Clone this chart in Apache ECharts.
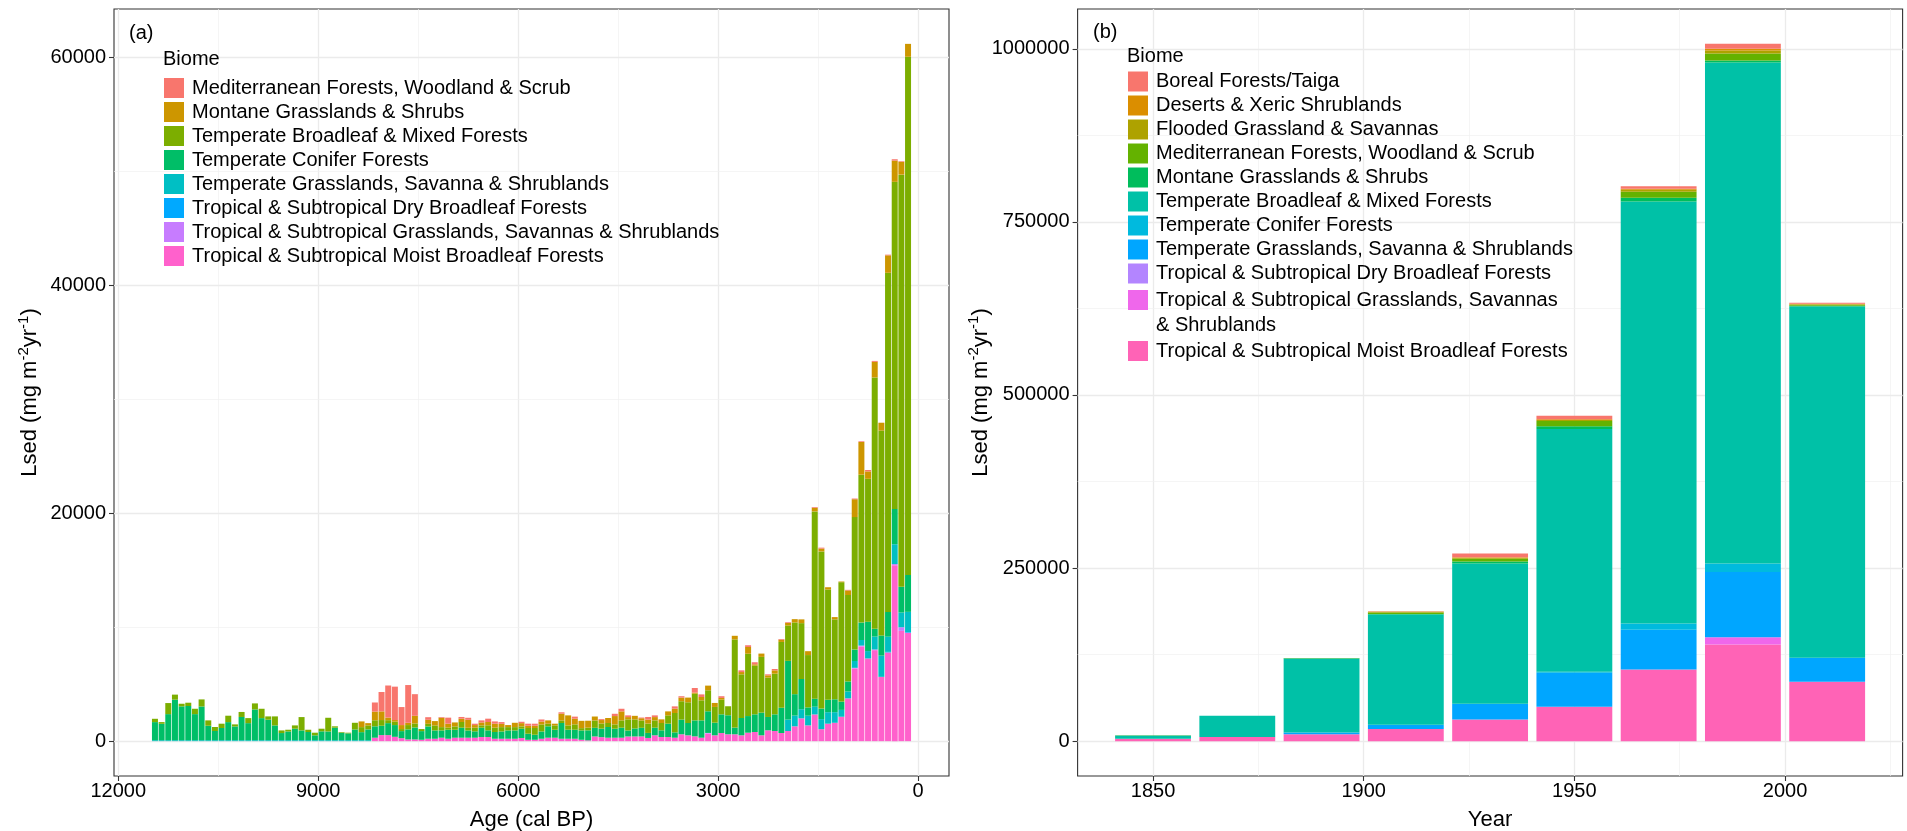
<!DOCTYPE html>
<html>
<head>
<meta charset="utf-8">
<title>Sediment load by biome</title>
<script src="https://cdn.jsdelivr.net/npm/echarts@6/dist/echarts.min.js"></script>
<style>
  html, body { margin: 0; padding: 0; background: #ffffff; }
  #wrap { position: relative; width: 1907px; height: 831px; overflow: hidden; }
  #holocene { position: absolute; left: 0; top: 0; width: 954px; height: 831px; }
  #modern { position: absolute; left: 954px; top: 0; width: 953px; height: 831px; }
</style>
</head>
<body>
<div id="wrap">
  <div id="holocene"></div>
  <div id="modern"></div>
</div>
<script>
// ---------------- Panel (a): Holocene, 100-year bins (bin centre, cal BP) ----------------
const holoAge = [
  11450, 11350, 11250, 11150, 11050, 10950, 10850, 10750, 10650, 10550,
  10450, 10350, 10250, 10150, 10050, 9950, 9850, 9750, 9650, 9550,
  9450, 9350, 9250, 9150, 9050, 8950, 8850, 8750, 8650, 8550,
  8450, 8350, 8250, 8150, 8050, 7950, 7850, 7750, 7650, 7550,
  7450, 7350, 7250, 7150, 7050, 6950, 6850, 6750, 6650, 6550,
  6450, 6350, 6250, 6150, 6050, 5950, 5850, 5750, 5650, 5550,
  5450, 5350, 5250, 5150, 5050, 4950, 4850, 4750, 4650, 4550,
  4450, 4350, 4250, 4150, 4050, 3950, 3850, 3750, 3650, 3550,
  3450, 3350, 3250, 3150, 3050, 2950, 2850, 2750, 2650, 2550,
  2450, 2350, 2250, 2150, 2050, 1950, 1850, 1750, 1650, 1550,
  1450, 1350, 1250, 1150, 1050, 950, 850, 750, 650, 550,
  450, 350, 250, 150
];

const holoMed = [
  0, 0, 0, 0, 0, 0, 0, 0, 0, 0,
  0, 0, 0, 0, 0, 0, 0, 0, 0, 0,
  0, 0, 0, 0, 0, 0, 0, 0, 0, 0,
  0, 0, 0, 800, 1700, 2810, 2930, 1580, 3310, 1900,
  0, 230, 0, 60, 530, 0, 150, 180, 120, 180,
  290, 200, 150, 0, 0, 120, 180, 180, 180, 0,
  0, 120, 0, 180, 0, 0, 0, 80, 0, 200,
  230, 150, 0, 60, 230, 150, 0, 0, 200, 120,
  0, 400, 230, 0, 0, 150, 0, 0, 150, 150,
  180, 0, 90, 120, 60, 60, 0, 0, 0, 60,
  80, 0, 0, 0, 50, 60, 60, 120, 80, 0,
  60, 120, 50, 0
];
const holoMontane = [
  0, 0, 0, 0, 0, 0, 0, 0, 0, 0,
  0, 0, 0, 0, 0, 0, 0, 0, 0, 0,
  0, 0, 0, 0, 0, 0, 0, 0, 0, 0,
  0, 500, 200, 760, 760, 230, 140, 350, 200, 670,
  0, 350, 380, 820, 350, 350, 290, 700, 230, 260,
  290, 350, 290, 180, 380, 290, 200, 200, 260, 290,
  150, 590, 880, 500, 640, 610, 350, 300, 440, 730,
  790, 200, 320, 200, 350, 290, 320, 350, 380, 320,
  410, 100, 290, 410, 350, 150, 0, 320, 200, 590,
  120, 290, 200, 290, 200, 230, 290, 330, 340, 320,
  250, 200, 200, 60, 400, 1570, 2870, 650, 1370, 690,
  1530, 1860, 1130, 1130
];
const holoBroadleaf = [
  290, 150, 970, 440, 230, 290, 470, 620, 470, 350,
  380, 560, 180, 440, 440, 530, 820, 290, 790, 230,
  150, 290, 1170, 200, 230, 230, 1200, 120, 60, 60,
  590, 440, 350, 530, 500, 260, 300, 180, 380, 350,
  180, 230, 440, 290, 180, 290, 500, 230, 320, 200,
  440, 380, 380, 290, 290, 200, 500, 590, 610, 230,
  380, 230, 380, 470, 200, 230, 640, 450, 350, 380,
  640, 970, 790, 640, 820, 640, 640, 730, 1700, 1610,
  1820, 2340, 1760, 1840, 1380, 1290, 790, 7730, 3830, 5470,
  4270, 4890, 3450, 3570, 5770, 3100, 6290, 4900, 4590, 16430,
  13780, 9670, 7010, 10470, 7580, 11620, 12970, 12530, 22050, 17970,
  29750, 28690, 36150, 45460
];
const holoConifer = [
  1590, 1440, 2290, 3560, 2970, 3000, 2290, 2960, 1270, 810,
  1070, 1590, 1210, 2040, 1500, 2700, 1940, 1800, 1300, 630,
  770, 1010, 860, 720, 430, 780, 770, 1100, 650, 600,
  940, 710, 950, 1000, 820, 1050, 1030, 620, 880, 1050,
  760, 1080, 730, 640, 790, 700, 880, 640, 560, 820,
  590, 590, 640, 730, 730, 820, 530, 440, 640, 1000,
  700, 1380, 790, 790, 820, 880, 760, 750, 940, 790,
  880, 530, 700, 760, 440, 670, 590, 1170, 470, 1290,
  1080, 1400, 1520, 1900, 1110, 1640, 1670, 590, 1520, 1460,
  1550, 1990, 1170, 1460, 2220, 5150, 1880, 2650, 730, 700,
  930, 1090, 1130, 730, 890, 1000, 1530, 2580, 680, 1770,
  2170, 3100, 2260, 3230
];
const holoTempGrass = [
  80, 80, 80, 80, 80, 80, 80, 80, 80, 80,
  80, 80, 80, 80, 80, 80, 80, 80, 80, 80,
  80, 80, 80, 80, 80, 80, 80, 80, 80, 80,
  80, 80, 80, 0, 0, 0, 0, 0, 0, 0,
  0, 0, 0, 0, 0, 0, 0, 0, 0, 0,
  0, 0, 0, 0, 0, 0, 0, 0, 0, 0,
  0, 0, 0, 0, 0, 0, 0, 0, 0, 0,
  0, 0, 0, 0, 0, 0, 0, 0, 0, 0,
  0, 0, 0, 0, 0, 0, 0, 0, 0, 0,
  0, 0, 0, 0, 0, 1000, 940, 800, 850, 680,
  880, 1010, 930, 600, 600, 600, 490, 650, 1130, 1860,
  1330, 1740, 1290, 1770
];
const holoTropDry = [
  0, 0, 0, 0, 0, 0, 0, 0, 0, 0,
  0, 0, 0, 0, 0, 0, 0, 0, 0, 0,
  0, 0, 0, 0, 0, 0, 0, 0, 0, 0,
  0, 0, 0, 0, 0, 0, 0, 0, 0, 0,
  0, 0, 0, 0, 0, 0, 0, 0, 0, 0,
  0, 0, 0, 0, 0, 0, 0, 0, 0, 0,
  0, 0, 0, 0, 0, 0, 0, 0, 0, 0,
  0, 0, 0, 0, 0, 0, 0, 0, 0, 0,
  0, 0, 0, 0, 0, 0, 0, 0, 0, 0,
  0, 0, 0, 0, 0, 0, 0, 0, 0, 0,
  0, 0, 0, 0, 0, 0, 0, 0, 0, 0,
  50, 0, 0, 60
];
const holoTropGrass = [
  0, 0, 0, 0, 0, 0, 0, 0, 0, 0,
  0, 0, 0, 0, 0, 0, 0, 0, 0, 0,
  0, 0, 0, 0, 0, 0, 0, 0, 0, 0,
  0, 0, 0, 0, 0, 0, 0, 0, 0, 0,
  0, 0, 0, 0, 0, 0, 0, 0, 0, 0,
  0, 0, 0, 0, 0, 0, 0, 0, 0, 0,
  0, 0, 0, 0, 0, 0, 0, 0, 0, 0,
  0, 0, 0, 0, 0, 0, 0, 0, 0, 0,
  0, 0, 0, 60, 0, 0, 0, 0, 0, 0,
  0, 0, 0, 0, 0, 0, 0, 0, 0, 0,
  0, 0, 0, 0, 0, 60, 80, 0, 60, 0,
  0, 100, 320, 0
];
const holoMoist = [
  0, 0, 0, 0, 0, 0, 0, 0, 0, 0,
  0, 0, 0, 0, 0, 0, 0, 0, 0, 0,
  0, 0, 0, 0, 0, 0, 0, 0, 0, 0,
  0, 0, 0, 300, 530, 530, 380, 260, 150, 150,
  120, 210, 210, 300, 210, 300, 300, 300, 300, 360,
  360, 210, 210, 210, 210, 270, 120, 120, 210, 300,
  300, 210, 210, 210, 120, 70, 410, 350, 300, 300,
  300, 410, 410, 410, 280, 510, 360, 360, 300, 600,
  510, 420, 300, 660, 510, 710, 600, 600, 510, 740,
  800, 510, 950, 890, 710, 890, 1300, 2000, 1380, 2340,
  1050, 1530, 1610, 2140, 3750, 6370, 8300, 7250, 7980, 5640,
  7780, 15430, 9670, 9510
];

const holoBiomes = [
  'Mediterranean Forests, Woodland & Scrub',
  'Montane Grasslands & Shrubs',
  'Temperate Broadleaf & Mixed Forests',
  'Temperate Conifer Forests',
  'Temperate Grasslands, Savanna & Shrublands',
  'Tropical & Subtropical Dry Broadleaf Forests',
  'Tropical & Subtropical Grasslands, Savannas & Shrublands',
  'Tropical & Subtropical Moist Broadleaf Forests'
];
const holoColors = ['#F8766D', '#CD9600', '#7CAE00', '#00BE67', '#00BFC4', '#00A9FF', '#C77CFF', '#FF61CC'];
const holoValues = [holoMed, holoMontane, holoBroadleaf, holoConifer, holoTempGrass, holoTropDry, holoTropGrass, holoMoist];

const holoAgeTicks = [0, 3000, 6000, 9000, 12000];
const holoAgeMinor = [1500, 4500, 7500, 10500];
const holoLsedTicks = [0, 20000, 40000, 60000];
const holoLsedMinor = [10000, 30000, 50000];

// ---------------- Panel (b): 1840-2020, 20-year bins (bin centre, AD) ----------------
const modernYear = [1850, 1870, 1890, 1910, 1930, 1950, 1970, 1990, 2010];

const modBoreal     = [0, 0, 0, 500, 5400, 5300, 3900, 7200, 1400];
const modDeserts    = [0, 0, 0, 300, 800, 800, 1300, 2400, 600];
const modFlooded    = [0, 0, 300, 1000, 1500, 1500, 3000, 4300, 800];
const modMed        = [200, 300, 300, 2000, 3800, 7700, 8700, 10100, 1400];
const modMontane    = [0, 0, 300, 800, 3000, 3800, 5300, 2900, 1000];
const modBroadleaf  = [4600, 30400, 107000, 159300, 202400, 350700, 609400, 723600, 507600];
const modConifer    = [0, 0, 0, 0, 500, 1500, 9200, 12300, 0];
const modTempGrass  = [0, 0, 2300, 6100, 22200, 49000, 57400, 94200, 34500];
const modTropDry    = [0, 0, 0, 0, 0, 0, 0, 0, 0];
const modTropGrass  = [0, 0, 0, 0, 0, 0, 0, 10700, 0];
const modMoist      = [3600, 6100, 10000, 17600, 31400, 49800, 103400, 139400, 85800];

const modBiomes = [
  'Boreal Forests/Taiga',
  'Deserts & Xeric Shrublands',
  'Flooded Grassland & Savannas',
  'Mediterranean Forests, Woodland & Scrub',
  'Montane Grasslands & Shrubs',
  'Temperate Broadleaf & Mixed Forests',
  'Temperate Conifer Forests',
  'Temperate Grasslands, Savanna & Shrublands',
  'Tropical & Subtropical Dry Broadleaf Forests',
  'Tropical & Subtropical Grasslands, Savannas & Shrublands',
  'Tropical & Subtropical Moist Broadleaf Forests'
];
const modColors = ['#F8766D', '#DB8E00', '#AEA200', '#64B200', '#00BD5C', '#00C1A7', '#00BADE', '#00A6FF', '#B385FF', '#EF67EB', '#FF63B6'];
const modValues = [modBoreal, modDeserts, modFlooded, modMed, modMontane, modBroadleaf, modConifer, modTempGrass, modTropDry, modTropGrass, modMoist];
const modWrappedLabel = ['Tropical & Subtropical Grasslands, Savannas', '& Shrublands'];

const modYearTicks = [1850, 1900, 1950, 2000];
const modYearMinor = [1875, 1925, 1975, 2025];
const modLsedTicks = [0, 250000, 500000, 750000, 1000000];
const modLsedMinor = [125000, 375000, 625000, 875000];

// ---------------- shared helpers ----------------
const FONT = '"Liberation Sans", Arial, Helvetica, sans-serif';
const INK = '#000000';

// ggplot-like 5% expansion of a range
function expand(lo, hi) {
  const pad = (hi - lo) * 0.05;
  return [lo - pad, hi + pad];
}

function binTotals(values) {
  return values[0].map((_, j) => values.reduce((s, arr) => s + arr[j], 0));
}

function gridLines(dim, major, minor) {
  return major.map(v => ({ [dim]: v, lineStyle: { color: '#EBEBEB', width: 1.3, type: 'solid' } }))
    .concat(minor.map(v => ({ [dim]: v, lineStyle: { color: '#F0F0F0', width: 0.7, type: 'solid' } })));
}

// First legend level sits on top of the stack, as in ggplot.
// Rows are [Lsed, bin]; the value column comes first so that it is the one stacked.
function stackedSeries(names, colors, values, xs, marks) {
  const out = [];
  for (let i = names.length - 1; i >= 0; i--) {
    out.push({
      name: names[i],
      type: 'bar',
      stack: 'biome',
      barWidth: '90%',
      encode: { x: 1, y: 0 },
      itemStyle: { color: colors[i] },
      emphasis: { disabled: true },
      data: xs.map((x, j) => [values[i][j], x])
    });
  }
  out[0].markLine = {
    silent: true,
    z: 1,
    symbol: ['none', 'none'],
    label: { show: false },
    animation: false,
    data: marks
  };
  return out;
}

function valueAxis(opts) {
  return Object.assign({
    type: 'value',
    nameLocation: 'middle',
    nameMoveOverlap: false,
    nameTextStyle: { fontFamily: FONT, fontSize: 22, color: INK, lineHeight: 28 },
    axisLine: { show: false, onZero: false },
    axisTick: { show: true, length: 5, lineStyle: { color: '#333333', width: 1.1 } },
    splitLine: { show: false },
    minorSplitLine: { show: false }
  }, opts);
}

function labelStyle(ticks, margin) {
  return {
    customValues: ticks,
    fontFamily: FONT, fontSize: 20, color: INK, lineHeight: 24, margin: margin,
    formatter: v => String(v)
  };
}

function frame(left, width) {
  return {
    left: left, top: 9, width: width, height: 767,
    show: true, borderColor: '#333333', borderWidth: 1.1, backgroundColor: 'transparent',
    containLabel: false,
    outerBoundsMode: 'none'
  };
}

const titleText = { fontFamily: FONT, fontSize: 20, fontWeight: 'normal', color: INK, lineHeight: 24 };
const legendText = { fontFamily: FONT, fontSize: 20, color: INK, lineHeight: 24, padding: [0, 0, 0, 3] };
const yName = 'Lsed (mg m{sup|-2}yr{sup|-1})';
const yNameRich = { sup: { fontFamily: FONT, fontSize: 15, color: INK, verticalAlign: 'top', lineHeight: 15 } };

// ---------------- panel (a) ----------------
(function () {
  const chart = echarts.init(document.getElementById('holocene'), null, { renderer: 'canvas' });
  const xExt = expand(Math.min(...holoAge) - 45, Math.max(...holoAge) + 45);
  const yExt = expand(0, Math.max(...binTotals(holoValues)));
  const marks = gridLines('xAxis', holoAgeTicks, holoAgeMinor).concat(gridLines('yAxis', holoLsedTicks, holoLsedMinor));

  chart.setOption({
    animation: false,
    title: [
      { text: '(a)', left: 129, top: 21, padding: 0, textStyle: titleText },
      { text: 'Biome', left: 163, top: 47, padding: 0, textStyle: titleText }
    ],
    legend: {
      data: holoBiomes,
      orient: 'vertical',
      left: 164, top: 76,
      padding: 0, itemGap: 0,
      itemWidth: 20, itemHeight: 20,
      icon: 'rect',
      selectedMode: false,
      textStyle: legendText
    },
    grid: frame(114, 835),
    xAxis: valueAxis({
      inverse: true,
      min: xExt[0], max: xExt[1],
      name: 'Age (cal BP)', nameGap: 30,
      axisTick: { show: true, length: 5, customValues: holoAgeTicks, lineStyle: { color: '#333333', width: 1.1 } },
      axisLabel: labelStyle(holoAgeTicks, 3)
    }),
    yAxis: valueAxis({
      min: yExt[0], max: yExt[1],
      name: yName, nameGap: 70,
      nameTextStyle: { fontFamily: FONT, fontSize: 22, color: INK, lineHeight: 28, rich: yNameRich },
      axisTick: { show: true, length: 5, customValues: holoLsedTicks, lineStyle: { color: '#333333', width: 1.1 } },
      axisLabel: labelStyle(holoLsedTicks, 8)
    }),
    series: stackedSeries(holoBiomes, holoColors, holoValues, holoAge, marks)
  });
})();

// ---------------- panel (b) ----------------
(function () {
  const chart = echarts.init(document.getElementById('modern'), null, { renderer: 'canvas' });
  const xExt = expand(Math.min(...modernYear) - 9, Math.max(...modernYear) + 9);
  const yExt = expand(0, Math.max(...binTotals(modValues)));
  const marks = gridLines('xAxis', modYearTicks, modYearMinor).concat(gridLines('yAxis', modLsedTicks, modLsedMinor));
  const legendBase = {
    orient: 'vertical', left: 174, padding: 0, itemGap: 0,
    itemWidth: 20, itemHeight: 20, icon: 'rect', selectedMode: false, textStyle: legendText
  };

  chart.setOption({
    animation: false,
    title: [
      { text: '(b)', left: 139, top: 20, padding: 0, textStyle: titleText },
      { text: 'Biome', left: 173, top: 44, padding: 0, textStyle: titleText }
    ],
    legend: [
      Object.assign({}, legendBase, { top: 69.5, data: modBiomes.slice(0, 9) }),
      Object.assign({}, legendBase, { top: 288, data: [modBiomes[9]], formatter: () => modWrappedLabel[0] }),
      Object.assign({}, legendBase, { top: 339, data: [modBiomes[10]] })
    ],
    graphic: [{
      type: 'text', left: 202, top: 313, silent: true,
      style: { text: modWrappedLabel[1], fontFamily: FONT, fontSize: 20, fill: INK, lineHeight: 24 }
    }],
    grid: frame(123.6, 825),
    xAxis: valueAxis({
      min: xExt[0], max: xExt[1],
      name: 'Year', nameGap: 30,
      axisTick: { show: true, length: 5, customValues: modYearTicks, lineStyle: { color: '#333333', width: 1.1 } },
      axisLabel: labelStyle(modYearTicks, 3)
    }),
    yAxis: valueAxis({
      min: yExt[0], max: yExt[1],
      name: yName, nameGap: 83,
      nameTextStyle: { fontFamily: FONT, fontSize: 22, color: INK, lineHeight: 28, rich: yNameRich },
      axisTick: { show: true, length: 5, customValues: modLsedTicks, lineStyle: { color: '#333333', width: 1.1 } },
      axisLabel: labelStyle(modLsedTicks, 8)
    }),
    series: stackedSeries(modBiomes, modColors, modValues, modernYear, marks)
  });
})();
</script>
</body>
</html>
